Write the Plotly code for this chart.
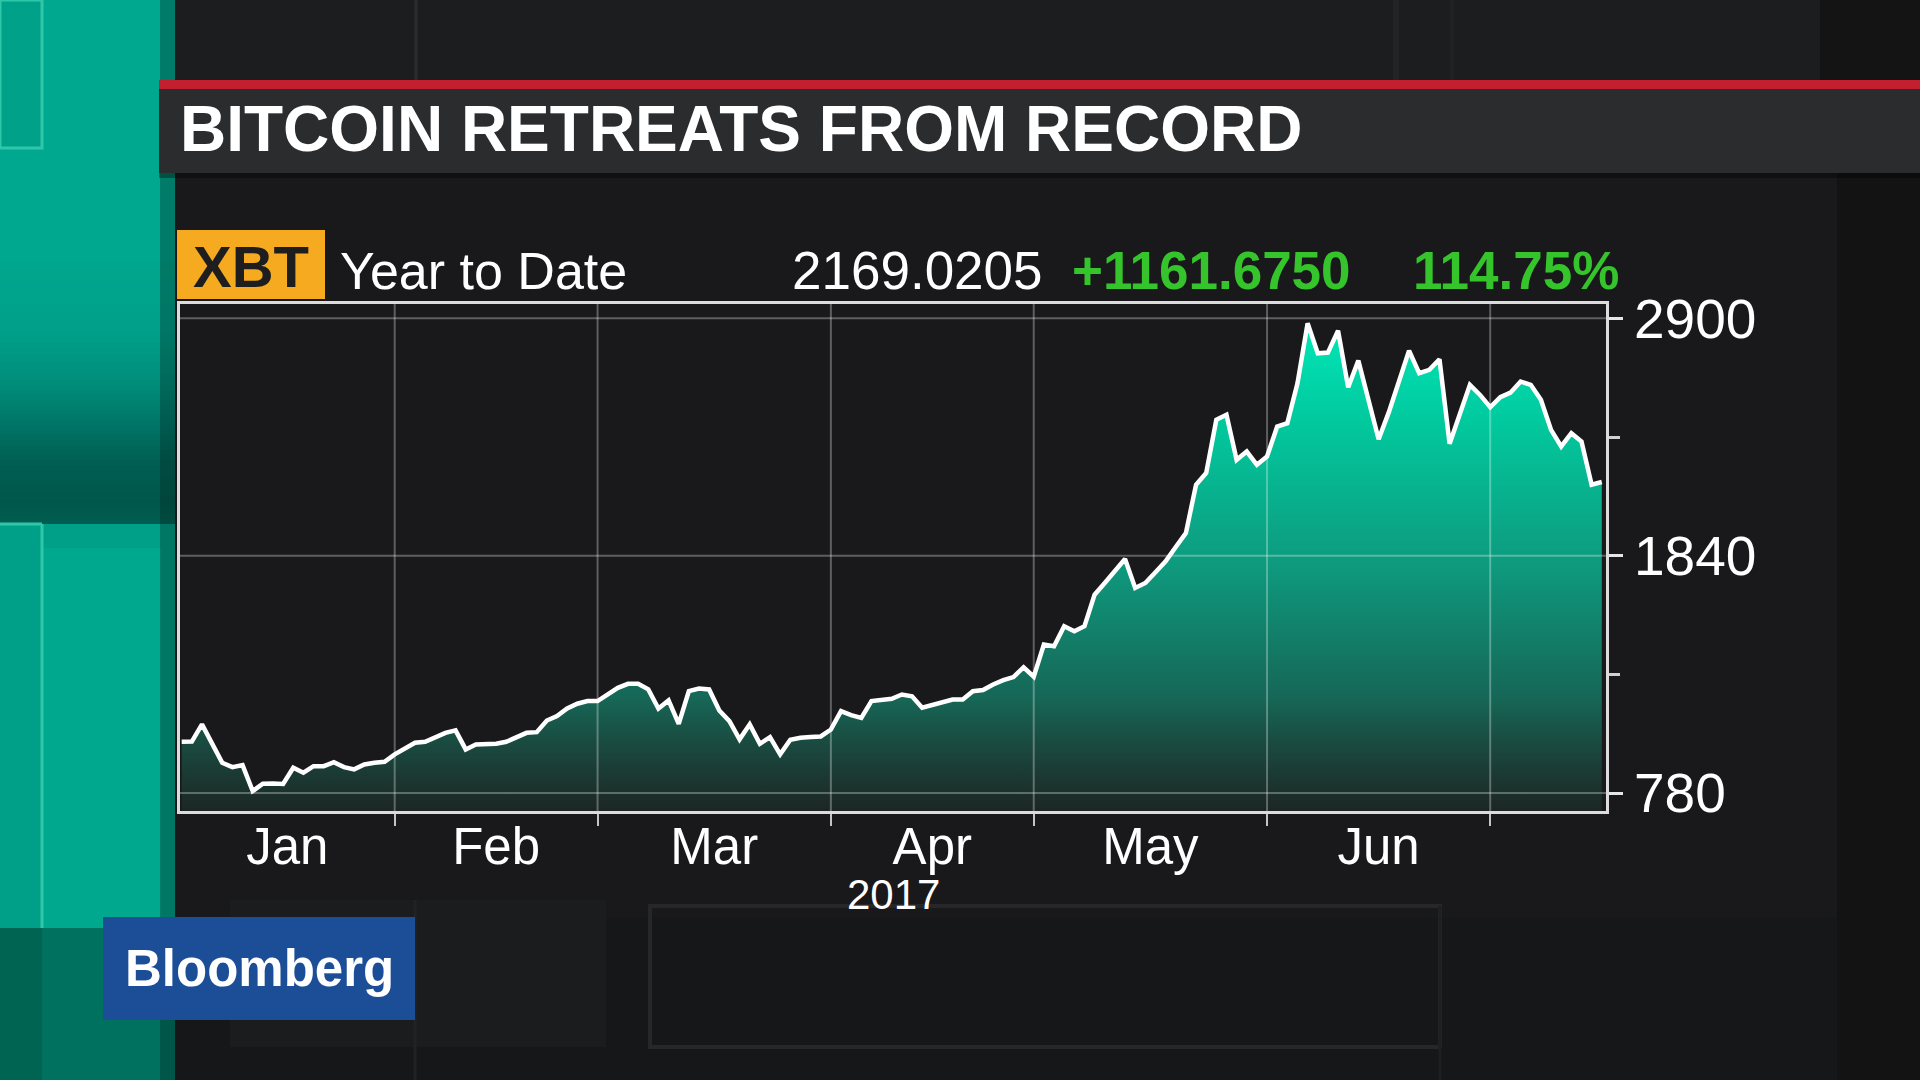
import plotly.graph_objects as go
import pandas as pd

# ---------------- data ----------------
price = [
    1009, 1010, 1087, 1005, 915, 896, 905, 789, 822, 823,
    821, 893, 871, 900, 900, 918, 896, 886, 908, 915,
    920, 953, 982, 1005, 1009, 1030, 1049, 1060, 975, 997,
    997, 1000, 1009, 1030, 1049, 1052, 1104, 1124, 1158, 1179,
    1191, 1191, 1220, 1250, 1268, 1268, 1243, 1158, 1194, 1089,
    1235, 1247, 1243, 1149, 1101, 1020, 1087, 1000, 1030, 953,
    1018, 1027, 1030, 1033, 1064, 1146, 1128, 1116, 1191, 1195,
    1201, 1220, 1212, 1161, 1173, 1187, 1198, 1198, 1235, 1240,
    1265, 1284, 1298, 1342, 1300, 1443, 1436, 1525, 1503, 1525,
    1666, 1718, 1770, 1825, 1696, 1718, 1766, 1815, 1879, 1941,
    2157, 2209, 2447, 2469, 2268, 2305, 2246, 2283, 2417, 2432,
    2610, 2878, 2744, 2747, 2845, 2592, 2711, 2536, 2360, 2480,
    2620, 2756, 2655, 2670, 2717, 2340, 2472, 2603, 2558, 2503,
    2548, 2568, 2618, 2603, 2536, 2402, 2328, 2387, 2350, 2157,
    2169,
]
first_day = "2017-01-03"
dates = pd.bdate_range(first_day, periods=len(price))

month_starts = ["2017-02-01", "2017-03-01", "2017-04-03", "2017-05-01", "2017-06-01", "2017-07-03"]
month_labels = ["Jan", "Feb", "Mar", "Apr", "May", "Jun"]
month_label_at = ["2017-01-17 10:00", "2017-02-15 00:00", "2017-03-16 12:00",
                  "2017-04-17 00:00", "2017-05-16 12:00", "2017-06-16 00:00"]
y_major = [780, 1840, 2900]
y_minor = [1310, 2370]
x_range = ["2017-01-02 20:00", "2017-07-18 10:00"]
y_range = [700, 2964]

title_text = "BITCOIN RETREATS FROM RECORD"
ticker = "XBT"
period_text = "Year to Date"
last_text = "2169.0205"
change_text = "+1161.6750"
pct_text = "114.75%"
year_text = "2017"
brand_text = "Bloomberg"

# ---------------- layout geometry (pixels) ----------------
W, H = 1920, 1080
L, R, T, B = 180, 1606, 304, 811


def px(x):
    return (x - L) / (R - L)


def py(y):
    return (B - y) / (B - T)


def rect(x0, y0, x1, y1, color, line=None, layer="below"):
    d = dict(type="rect", xref="paper", yref="paper",
             x0=px(x0), x1=px(x1), y0=py(y1), y1=py(y0),
             fillcolor=color, layer=layer, line=dict(width=0))
    if line:
        d["line"] = dict(color=line[0], width=line[1])
    return d


def hline(x0, x1, y, color, width):
    return dict(type="line", xref="paper", yref="paper", x0=px(x0), x1=px(x1),
                y0=py(y), y1=py(y), line=dict(color=color, width=width), layer="below")


def vline(x, y0, y1, color, width):
    return dict(type="line", xref="paper", yref="paper", x0=px(x), x1=px(x),
                y0=py(y0), y1=py(y1), line=dict(color=color, width=width), layer="below")


def hexmix(c0, c1, t):
    a = [int(c0[i:i + 2], 16) for i in (1, 3, 5)]
    b = [int(c1[i:i + 2], 16) for i in (1, 3, 5)]
    return "#" + "".join("%02x" % round(a[k] + (b[k] - a[k]) * t) for k in range(3))


shapes = []
# upper background area
shapes.append(rect(175, 0, 1920, 80, "#1c1d1f"))
shapes.append(rect(1820, 0, 1920, 80, "#141415"))
shapes.append(vline(416, 0, 80, "#2c2d2f", 3))
shapes.append(vline(1396, 0, 80, "#232425", 6))
shapes.append(vline(1452, 0, 80, "#202122", 4))
# chart panel
shapes.append(rect(175, 173, 1837, 918, "#19191c"))
shapes.append(rect(1837, 173, 1920, 1080, "#131314"))
# lower area
shapes.append(rect(175, 918, 1837, 1080, "#161718"))
shapes.append(rect(230, 900, 606, 1047, "#1b1c1e"))
shapes.append(vline(415, 900, 1080, "#212224", 3))
shapes.append(rect(650, 906, 1440, 1047, "rgba(0,0,0,0)", line=("#262729", 4)))
shapes.append(vline(1440, 906, 1080, "#1e1f21", 3))

# teal band on the left
shapes.append(rect(0, 0, 175, 1080, "#00a38b"))
shapes.append(rect(0, 0, 175, 262, "#00a88f"))
shapes.append(rect(0, 0, 42, 148, "#00a189", line=("#2fc7aa", 3)))
band_stops = [(262, "#00a68d"), (330, "#00a08a"), (380, "#008f7b"), (420, "#00786a"),
              (460, "#005f53"), (500, "#00564b"), (524, "#005d50")]
for k in range(len(band_stops) - 1):
    (ya, ca), (yb, cb) = band_stops[k], band_stops[k + 1]
    steps = 8
    for s in range(steps):
        y0 = ya + (yb - ya) * s / steps
        y1 = ya + (yb - ya) * (s + 1) / steps + 0.6
        shapes.append(rect(0, y0, 175, y1, hexmix(ca, cb, (s + 0.5) / steps)))
shapes.append(rect(0, 524, 175, 928, "#00a088"))
shapes.append(rect(42, 548, 162, 928, "#00a88e"))
shapes.append(vline(42, 524, 1080, "#2fc7aa", 3))
shapes.append(hline(0, 42, 524, "#2fc7aa", 3))
shapes.append(rect(0, 928, 175, 1080, "#00715f"))
shapes.append(rect(0, 928, 42, 1080, "#006453"))
shapes.append(rect(160, 0, 175, 1080, "rgba(0,40,34,0.35)"))

# title bar
shapes.append(rect(159, 80, 1920, 89, "#c41f2f"))
shapes.append(rect(159, 89, 1920, 173, "#2a2c2e"))
shapes.append(rect(159, 173, 1920, 178, "rgba(0,0,0,0.35)"))

# ticker box
shapes.append(rect(177, 230, 325, 299, "#f6aa1f"))

# Bloomberg box
shapes.append(rect(103, 917, 415, 1020, "#1c4e97"))

# gridlines drawn over the fill, from the tick lists
for d in month_starts:
    shapes.append(dict(type="line", xref="x", yref="paper", x0=d, x1=d, y0=0, y1=1,
                       line=dict(color="rgba(255,255,255,0.30)", width=2), layer="above"))
for v in y_major:
    shapes.append(dict(type="line", xref="paper", yref="y", x0=0, x1=1, y0=v, y1=v,
                       line=dict(color="rgba(255,255,255,0.30)", width=2), layer="above"))

FONT = "Liberation Sans, Arial, Helvetica, sans-serif"

annotations = [
    dict(text=title_text, x=px(178), y=py(129), xanchor="left", yanchor="middle",
         font=dict(family=FONT, size=64, color="#ffffff", weight=700)),
    dict(text=ticker, x=px(251), y=py(266), xanchor="center", yanchor="middle",
         font=dict(family=FONT, size=58, color="#1e1e1e", weight=700)),
    dict(text=period_text, x=px(338), y=py(271), xanchor="left", yanchor="middle",
         font=dict(family=FONT, size=52, color="#ffffff")),
    dict(text=last_text, x=px(1045), y=py(270), xanchor="right", yanchor="middle",
         font=dict(family=FONT, size=53, color="#ffffff")),
    dict(text=change_text, x=px(1070), y=py(270), xanchor="left", yanchor="middle",
         font=dict(family=FONT, size=53, color="#35c42c", weight=700)),
    dict(text=pct_text, x=px(1621), y=py(270), xanchor="right", yanchor="middle",
         font=dict(family=FONT, size=53, color="#35c42c", weight=700)),
    dict(text=year_text, x=0.5, y=py(894), xanchor="center", yanchor="middle",
         font=dict(family=FONT, size=42, color="#ffffff")),
    dict(text=brand_text, x=px(259), y=py(968), xanchor="center", yanchor="middle",
         font=dict(family=FONT, size=51, color="#ffffff", weight=700)),
]
for a in annotations:
    a.update(xref="paper", yref="paper", showarrow=False)

fig = go.Figure()
fig.add_trace(go.Scatter(
    x=dates, y=price, mode="lines",
    line=dict(color="#ffffff", width=4.5),
    fill="tozeroy",
    fillgradient=dict(
        type="vertical", start=700, stop=2950,
        colorscale=[[0.0, "#1c2624"], [0.133, "#1a4a40"], [0.222, "#166656"],
                    [0.489, "#0e9a7e"], [0.756, "#02c69c"], [1.0, "#00ecbb"]],
    ),
    hoverinfo="skip",
))

fig.update_layout(
    width=W, height=H,
    margin=dict(l=L, r=W - R, t=T, b=H - B, pad=0),
    paper_bgcolor="#161719",
    plot_bgcolor="#1f2023",
    showlegend=False,
    shapes=shapes,
    annotations=annotations,
    xaxis=dict(
        type="date", range=x_range,
        rangebreaks=[dict(bounds=["sat", "mon"])],
        tickmode="array", tickvals=month_label_at, ticktext=month_labels,
        ticks="", showgrid=False, zeroline=False,
        showline=True, mirror=True, linecolor="#dcdcdc", linewidth=3,
        tickfont=dict(family=FONT, size=51, color="#ffffff"),
        ticklabelstandoff=-11,
        minor=dict(tickmode="array", tickvals=month_starts, ticks="outside",
                   ticklen=12, tickwidth=2, tickcolor="#c4c4c4", showgrid=False),
        fixedrange=True,
    ),
    yaxis=dict(
        side="right", range=y_range,
        tickmode="array", tickvals=y_major, ticktext=[str(v) for v in y_major],
        ticks="outside", ticklen=14, tickwidth=3, tickcolor="#e6e6e6",
        showgrid=False, zeroline=False,
        showline=True, mirror=True, linecolor="#dcdcdc", linewidth=3,
        tickfont=dict(family=FONT, size=55, color="#ffffff"),
        minor=dict(tickmode="array", tickvals=y_minor, ticks="outside",
                   ticklen=11, tickwidth=3, tickcolor="#d0d0d0", showgrid=False),
        fixedrange=True,
    ),
)

fig.write_html("out.html", config={"displayModeBar": False},
               post_script="document.body.style.margin='0px';document.body.style.overflow='hidden';")
